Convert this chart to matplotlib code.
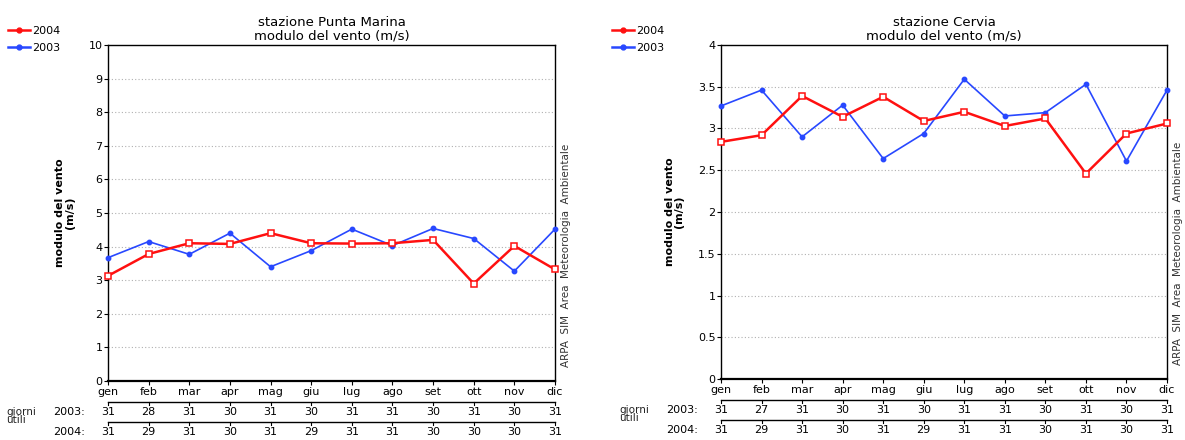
import numpy as np
import matplotlib.pyplot as plt
from matplotlib.lines import Line2D
import matplotlib.transforms as mtransforms

# ---------------------------------------------------------
# data
# ---------------------------------------------------------
months = ["gen", "feb", "mar", "apr", "mag", "giu",
          "lug", "ago", "set", "ott", "nov", "dic"]

pm_2003 = [3.67, 4.15, 3.77, 4.40, 3.40, 3.88, 4.52, 4.03, 4.54, 4.24, 3.27, 4.52]
pm_2004 = [3.13, 3.78, 4.10, 4.08, 4.40, 4.10, 4.09, 4.10, 4.20, 2.90, 4.02, 3.32]
pm_days_2003 = [31, 28, 31, 30, 31, 30, 31, 31, 30, 31, 30, 31]
pm_days_2004 = [31, 29, 31, 30, 31, 29, 31, 31, 30, 30, 30, 31]

ce_2003 = [3.27, 3.46, 2.90, 3.28, 2.64, 2.94, 3.59, 3.15, 3.19, 3.53, 2.61, 3.46]
ce_2004 = [2.84, 2.92, 3.39, 3.14, 3.38, 3.09, 3.20, 3.03, 3.12, 2.46, 2.94, 3.06]
ce_days_2003 = [31, 27, 31, 30, 31, 30, 31, 31, 30, 31, 30, 31]
ce_days_2004 = [31, 29, 31, 30, 31, 29, 31, 31, 30, 31, 30, 31]

RED = "#ff1010"
BLUE = "#2848ff"
W, H = 1185, 440

plt.rcParams["font.family"] = "DejaVu Sans"


def px_axes(fig, x0, y0, x1, y1):
    return fig.add_axes([x0 / W, 1 - y1 / H, (x1 - x0) / W, (y1 - y0) / H])


def draw_panel(fig, box, station, v03, v04, d03, d04, ymax, ystep, leg_x):
    ax = px_axes(fig, *box)
    ax_w = box[2] - box[0]
    ax_h = box[3] - box[1]
    x = np.arange(len(months))

    ax.plot(x, v03, color=BLUE, lw=1.2, marker="o", ms=3.2,
            mfc=BLUE, mec=BLUE, clip_on=False, zorder=3)
    ax.plot(x, v04, color=RED, lw=1.8, marker="s", ms=4.2,
            mfc="white", mec=RED, mew=1.1, clip_on=False, zorder=4)

    ax.set_xlim(0, len(months) - 1)
    ax.set_ylim(0, ymax)
    yt = np.arange(0, ymax + ystep / 2, ystep)
    ax.set_yticks(yt)
    ax.set_yticklabels([("%g" % v) for v in yt], fontsize=8)
    ax.set_xticks(x)
    ax.set_xticklabels(months, fontsize=8)
    ax.tick_params(axis="x", length=3, pad=1)
    ax.tick_params(axis="y", length=3, pad=1)
    for v in yt[1:-1]:
        ax.axhline(v, color="#b0b0b0", lw=0.8, ls=(0, (1, 2)), zorder=1)
    for s in ax.spines.values():
        s.set_linewidth(1.0)
    ax.spines["bottom"].set_linewidth(1.6)

    ax.set_title("stazione %s\nmodulo del vento (m/s)" % station,
                 fontsize=9.5, pad=4, linespacing=1.0)
    ax.set_ylabel("modulo del vento\n(m/s)", fontsize=8, fontweight="bold",
                  linespacing=0.9, labelpad=10)
    ax.text(1 + 6 / ax_w, 14 / ax_h,
            "ARPA  SIM  Area  Meteorologia  Ambientale",
            transform=ax.transAxes, rotation=90, ha="left", va="bottom",
            fontsize=7.5, color="#333333")

    # giorni utili rows
    tr = mtransforms.blended_transform_factory(ax.transData, ax.transAxes)
    rows = [(d03, "2003:", 21), (d04, "2004:", 41)]
    for days, lab, dy in rows:
        yl = -dy / ax_h
        ax.plot([0, len(months) - 1], [yl, yl], color="black", lw=1.0,
                transform=tr, clip_on=False)
        for i, d in enumerate(days):
            ax.plot([i, i], [yl, yl - 3 / ax_h], color="black", lw=0.8,
                    transform=tr, clip_on=False)
            ax.text(i, yl - 10 / ax_h, str(d), transform=tr, ha="center",
                    va="center", fontsize=8)
        ax.text(-55 / ax_w, yl - 10 / ax_h, lab, transform=ax.transAxes,
                ha="left", va="center", fontsize=8)
    ax.text(-102 / ax_w, -26 / ax_h, "giorni\nutili",
            transform=ax.transAxes, ha="left", va="top", fontsize=7.5,
            linespacing=0.8, color="#222222")

    handles = [Line2D([], [], color=RED, lw=1.8, marker="o", ms=3.5),
               Line2D([], [], color=BLUE, lw=1.8, marker="o", ms=3.5)]
    fig.legend(handles, ["2004", "2003"], loc="upper left",
               bbox_to_anchor=(leg_x / W, 1 - 26 / H), frameon=False,
               fontsize=8, handlelength=2.0, handletextpad=0.2,
               labelspacing=0.6, borderaxespad=0, borderpad=0)
    return ax


fig = plt.figure(figsize=(W / 100, H / 100), dpi=100)
draw_panel(fig, (108, 45, 555, 381), "Punta Marina",
           pm_2003, pm_2004, pm_days_2003, pm_days_2004, 10, 1, 8)
draw_panel(fig, (721, 45, 1167, 379), "Cervia",
           ce_2003, ce_2004, ce_days_2003, ce_days_2004, 4, 0.5, 612)

fig.savefig("out.png", dpi=100)
